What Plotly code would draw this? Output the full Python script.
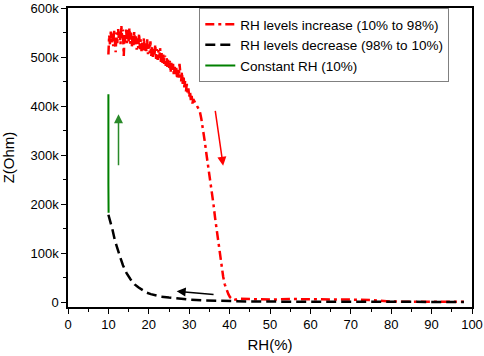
import plotly.graph_objects as go

# RH levels increase (10% -> 98%), Z in kOhm
rh_inc = [10.0, 10.2, 10.4, 10.6, 10.8, 11.0, 11.2, 11.4, 11.6, 11.8,
          12.0, 12.2, 12.4, 12.6, 12.8, 13.0, 13.2, 13.4, 13.6, 13.8,
          14.0, 14.2, 14.4, 14.6, 14.8, 15.0, 15.2, 15.4, 15.6, 15.8,
          16.0, 16.2, 16.4, 16.6, 16.8, 17.0, 17.2, 17.4, 17.6, 17.8,
          18.0, 18.2, 18.4, 18.6, 18.8, 19.0, 19.2, 19.4, 19.6, 19.8,
          20.0, 20.2, 20.4, 20.6, 20.8, 21.0, 21.2, 21.4, 21.6, 21.8,
          22.0, 22.2, 22.4, 22.6, 22.8, 23.0, 23.2, 23.4, 23.6, 23.8,
          24.0, 24.2, 24.4, 24.6, 24.8, 25.0, 25.2, 25.4, 25.6, 25.8,
          26.0, 26.2, 26.4, 26.6, 26.8, 27.0, 27.2, 27.4, 27.6, 27.8,
          28.0, 28.2, 28.4, 28.6, 28.8, 29.0, 29.2, 29.4, 29.6, 29.8,
          30.0, 30.2, 30.4, 30.6, 30.8, 31.0, 31.4, 31.8, 32.2, 32.6,
          33.0, 33.5, 33.9, 34.3, 34.7, 35.1, 35.4, 35.6, 35.8, 36.0,
          36.4, 36.8, 37.2, 37.6, 38.0, 38.4, 38.8, 39.3, 39.7, 40.1,
          40.5, 40.9, 41.5, 42.2, 45, 50, 55, 60, 65, 70,
          75, 78, 80, 85, 90, 95, 98]
z_inc = [505, 545, 525, 552, 530, 548, 522, 556, 532, 510,
         550, 528, 558, 535, 553, 526, 565, 538, 556, 502,
         545, 530, 556, 528, 558, 532, 560, 527, 550, 520,
         546, 524, 552, 522, 542, 515, 538, 518, 548, 516,
         536, 512, 530, 514, 540, 510, 528, 512, 536, 506,
         526, 508, 532, 502, 522, 500, 520, 503, 526, 496,
         516, 494, 514, 498, 518, 490, 510, 488, 506, 486,
         503, 482, 498, 480, 496, 476, 492, 468, 488, 470,
         486, 462, 480, 465, 478, 455, 474, 458, 486, 462,
         450, 470, 445, 462, 438, 452, 430, 445, 424, 436,
         418, 430, 412, 422, 405, 414, 408, 404, 398, 390,
         374, 350, 325, 300, 278, 255, 240, 232, 215, 200,
         172, 147, 122, 99, 75, 52, 36, 24, 16, 10,
         6, 4, 5, 7, 6, 5, 6, 6, 6, 5,
         4, 2, 1, 0.5, 0.5, 0.5, 0.5]

# RH levels decrease (98% -> 10%), Z in kOhm
rh_dec = [10.0, 10.5, 11.0, 11.6, 12.2, 12.9, 13.6, 14.5, 15.5, 16.5,
          17.4, 18.5, 19.5, 20.5, 21.5, 23, 25, 27, 30, 33,
          36, 40, 45, 50, 60, 70, 80, 90, 98]
z_dec = [178, 165, 148, 126, 108, 92, 75, 59, 46, 36,
         30, 24, 19, 16, 14, 11, 9, 7, 5, 3.5,
         2.5, 1.5, 1, 0.8, 0.5, 0.3, 0.2, 0.1, 0.1]

# Constant RH (10%), Z in kOhm
rh_const = [10.05, 10.0, 9.97, 10.0, 10.0]
z_const = [182, 205, 215, 240, 424]

y_tickvals = [0, 100, 200, 300, 400, 500, 600]
y_ticktext = ["0", "100k", "200k", "300k", "400k", "500k", "600k"]
x_tickvals = [0, 10, 20, 30, 40, 50, 60, 70, 80, 90, 100]

# arrows: (tail_x, tail_y, tip_x, tip_y, color)
arrows = [
    (36.4, 393, 38.4, 278, "#ff0000"),
    (12.5, 276, 12.5, 383, "#2a8a2a"),
    (36.4, 15, 26.9, 22, "#000000"),
]

FONT = "Arial, Liberation Sans, sans-serif"

fig = go.Figure()
fig.add_trace(go.Scatter(x=rh_inc, y=z_inc, mode="lines",
                         name="RH levels increase (10% to 98%)",
                         line=dict(color="#ff0000", width=2.5, dash="9px,4px,3px,4px")))
fig.add_trace(go.Scatter(x=rh_dec, y=z_dec, mode="lines",
                         name="RH levels decrease (98% to 10%)",
                         line=dict(color="#000000", width=2.5, dash="10px,5px")))
fig.add_trace(go.Scatter(x=rh_const, y=z_const, mode="lines",
                         name="Constant RH (10%)",
                         line=dict(color="#008000", width=2)))

for tx, ty, hx, hy, c in arrows:
    fig.add_annotation(x=hx, y=hy, ax=tx, ay=ty, xref="x", yref="y",
                       axref="x", ayref="y", text="", showarrow=True,
                       arrowhead=2, arrowsize=1.2, arrowwidth=1.5, arrowcolor=c)

fig.update_layout(
    width=484, height=356,
    margin=dict(l=68, r=12, t=8, b=49),
    paper_bgcolor="white", plot_bgcolor="white",
    font=dict(family=FONT, size=13, color="black"),
    showlegend=True,
    legend=dict(x=0.325, y=1.0, xanchor="left", yanchor="top",
                bgcolor="white", bordercolor="#808080", borderwidth=1,
                font=dict(size=13.5), tracegroupgap=0),
    xaxis=dict(range=[0, 100], tickvals=x_tickvals, automargin=False,
               showline=True, mirror=True, linecolor="black", linewidth=1.5,
               ticks="outside", ticklen=5, tickwidth=1.2, tickcolor="black",
               minor=dict(ticks="outside", ticklen=3, dtick=5, tickcolor="black"),
               showgrid=False, zeroline=False,
               title=dict(text="RH(%)", font=dict(size=15), standoff=8)),
    yaxis=dict(range=[-10.2, 600], tickvals=y_tickvals, ticktext=y_ticktext,
               automargin=False,
               showline=True, mirror=True, linecolor="black", linewidth=1.5,
               ticks="outside", ticklen=5, tickwidth=1.2, tickcolor="black",
               minor=dict(ticks="outside", ticklen=3, dtick=50, tickcolor="black"),
               showgrid=False, zeroline=False,
               title=dict(text="Z(Ohm)", font=dict(size=15), standoff=12)),
)

fig.write_html("out.html", config={"displayModeBar": False},
               post_script="document.body.style.margin='0';document.body.style.padding='0';")
